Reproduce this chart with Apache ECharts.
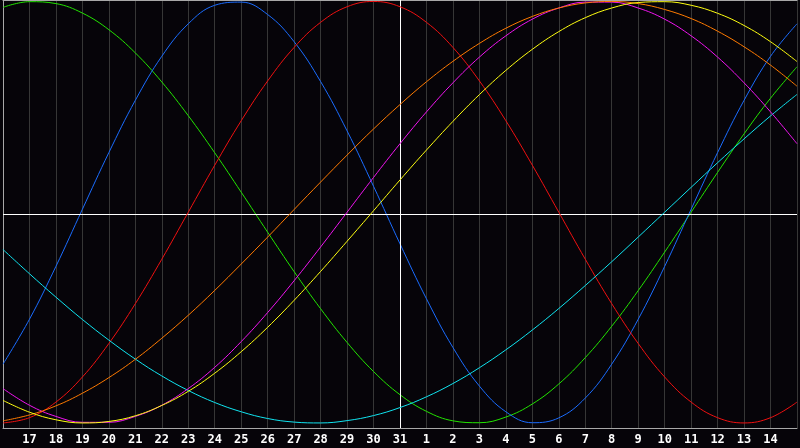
<!DOCTYPE html>
<html>
<head>
<meta charset="utf-8">
<script src="https://cdn.jsdelivr.net/npm/echarts@6/dist/echarts.min.js"></script>
<style>
html,body{margin:0;padding:0;background:#060409;}
#chart{width:800px;height:448px;}
</style>
</head>
<body>
<div id="chart"></div>
<script>
var days = ['16','17','18','19','20','21','22','23','24','25','26','27','28','29','30','31',
            '1','2','3','4','5','6','7','8','9','10','11','12','13','14','15'];
var todayLabel = '31';

var physical = [-0.721,-0.508,-0.257,0.014,0.283,0.531,0.740,0.894,0.982,0.997,0.938,0.809,0.620,0.386,0.123,-0.150,-0.411,-0.642,-0.825,-0.947,-0.999,-0.976,-0.882,-0.721,-0.508,-0.257,0.014,0.283,0.531,0.740,0.894];
var emotional = [-1,-0.975,-0.901,-0.782,-0.623,-0.434,-0.223,0,0.223,0.434,0.623,0.782,0.901,0.975,1,0.975,0.901,0.782,0.623,0.434,0.223,0,-0.223,-0.434,-0.623,-0.782,-0.901,-0.975,-1,-0.975,-0.901];
var intellectual = [0.972,0.999,0.990,0.945,0.866,0.756,0.618,0.458,0.282,0.095,-0.095,-0.282,-0.458,-0.618,-0.756,-0.866,-0.945,-0.990,-0.999,-0.972,-0.910,-0.815,-0.690,-0.541,-0.372,-0.189,0,0.189,0.372,0.541,0.690];
var spiritual = [-0.177,-0.292,-0.403,-0.509,-0.607,-0.697,-0.777,-0.846,-0.903,-0.947,-0.979,-0.996,-1.000,-0.989,-0.965,-0.927,-0.876,-0.813,-0.738,-0.653,-0.559,-0.457,-0.348,-0.235,-0.118,0,0.118,0.235,0.348,0.457,0.559];
var intuitive = [-0.837,-0.916,-0.969,-0.997,-0.997,-0.969,-0.916,-0.837,-0.736,-0.614,-0.476,-0.325,-0.165,0,0.165,0.325,0.476,0.614,0.736,0.837,0.916,0.969,0.997,0.997,0.969,0.916,0.837,0.736,0.614,0.476,0.325];
var awareness = [-0.990,-0.962,-0.919,-0.859,-0.785,-0.698,-0.598,-0.489,-0.371,-0.246,-0.118,0.013,0.143,0.271,0.395,0.511,0.619,0.716,0.801,0.873,0.929,0.969,0.993,1.000,0.990,0.962,0.919,0.859,0.785,0.698,0.598];
var aesthetic = [-0.893,-0.949,-0.985,-1.000,-0.993,-0.966,-0.917,-0.850,-0.764,-0.662,-0.546,-0.418,-0.281,-0.138,0.007,0.153,0.295,0.431,0.558,0.673,0.773,0.857,0.923,0.969,0.995,0.999,0.982,0.944,0.886,0.809,0.715];
var zeroLevel = -0.008;

var seriesDefs = [
  {name:'Intellectual', data:intellectual, color:'#22e400'},
  {name:'Physical', data:physical, color:'#1a6cff'},
  {name:'Emotional', data:emotional, color:'#f01010'},
  {name:'Spiritual', data:spiritual, color:'#10e4f0'},
  {name:'Intuitive', data:intuitive, color:'#f014f0'},
  {name:'Awareness', data:awareness, color:'#ff7a00'},
  {name:'Aesthetic', data:aesthetic, color:'#ffff10'}
];

var chart = echarts.init(document.getElementById('chart'), null, {renderer:'canvas'});
var series = seriesDefs.map(function(s, i){
  var o = {
    name: s.name, type:'line', data: s.data, smooth: 0.4,
    symbol:'none', lineStyle:{color:s.color, width:1}, itemStyle:{color:s.color},
    silent:true, z: 3 + i
  };
  if (i === 0) {
    o.markLine = {
      silent:true, symbol:'none', label:{show:false},
      lineStyle:{color:'#ffffff', width:1, type:'solid'},
      data:[{xAxis: todayLabel}, {yAxis: zeroLevel}]
    };
  }
  return o;
});

chart.setOption({
  animation:false,
  backgroundColor:'#060409',
  grid:{left:0, right:0, top:0, bottom:20},
  xAxis:[{
    type:'category', data:days, boundaryGap:false, position:'bottom',
    axisLine:{show:true, onZero:false, lineStyle:{color:'#a8a8a8', width:1}},
    axisTick:{show:false},
    axisLabel:{
      interval:0, color:'#ffffff', fontFamily:'DejaVu Sans Mono', fontWeight:'bold', fontSize:12, margin:6,
      formatter:function(v, idx){ return (idx === 0 || idx === days.length-1) ? '' : v; }
    },
    splitLine:{show:true, interval:0, lineStyle:{color:'#363636', width:1}}
  },{
    type:'category', data:days, boundaryGap:false, position:'top',
    axisLine:{show:true, onZero:false, lineStyle:{color:'#a8a8a8', width:1}},
    axisTick:{show:false}, axisLabel:{show:false}, splitLine:{show:false}
  }],
  yAxis:{
    type:'value', min:-1.024, max:1.007,
    axisLine:{show:true, onZero:false, lineStyle:{color:'#a8a8a8', width:1}},
    axisTick:{show:false}, axisLabel:{show:false}, splitLine:{show:false}
  },
  series: series
});
</script>
</body>
</html>
